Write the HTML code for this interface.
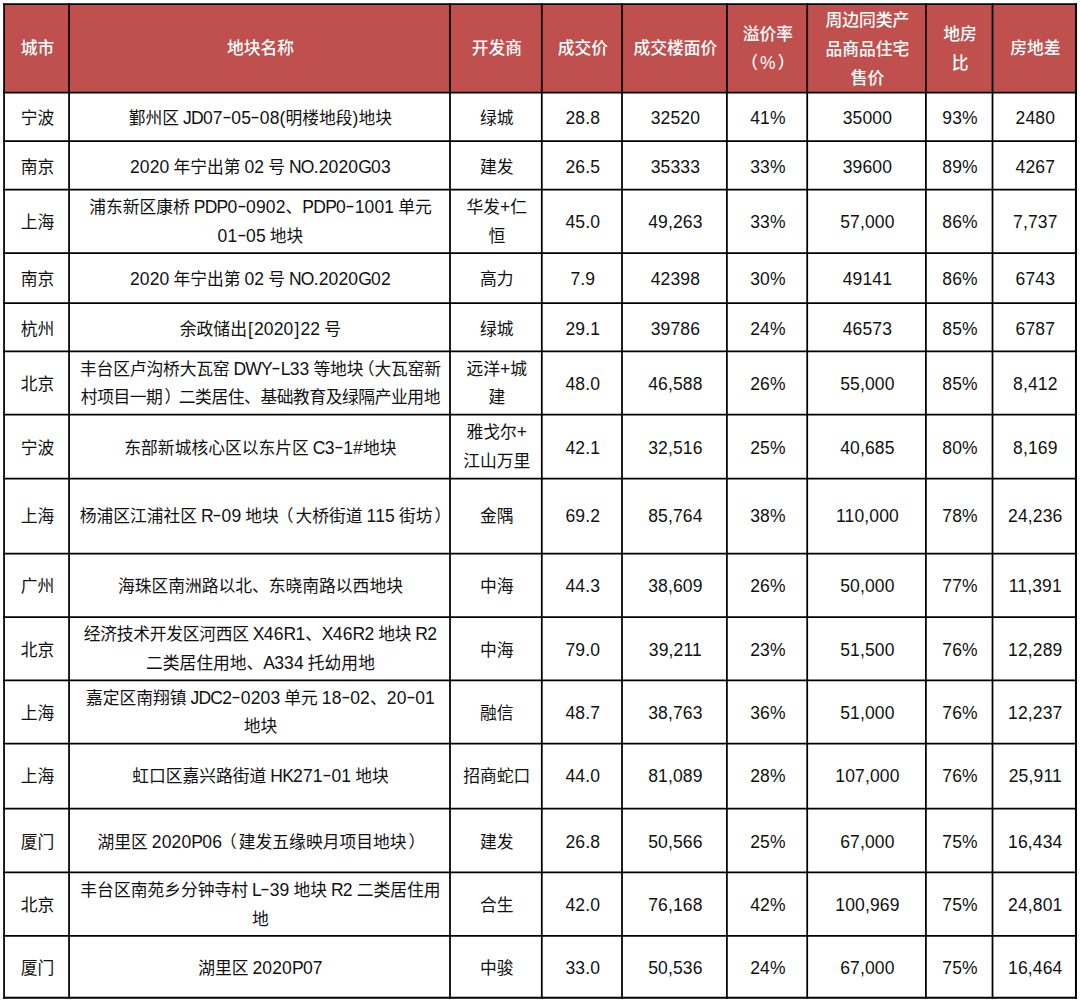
<!DOCTYPE html>
<html lang="zh-CN">
<head>
<meta charset="utf-8">
<title>地块成交表</title>
<style>

html,body{margin:0;padding:0;background:#fff;}
body{width:1080px;height:1002px;position:relative;overflow:hidden;
 font-family:"Liberation Sans","Noto Sans CJK SC",sans-serif;color:#111;}
#grid{position:absolute;left:0;top:0;}
.c{position:absolute;display:flex;align-items:center;justify-content:center;text-align:center;
 font-size:16.77px;line-height:28.8px;white-space:nowrap;box-sizing:border-box;padding-left:1.8px;}
.c>span{position:relative;top:3.0px;}
.c.m2>span{top:1.5px;}
.c.m3>span{top:2.0px;}
.br{margin:0 1px;}
.cp{margin-left:-5.5px;}
.pl{position:relative;left:-2px;}
.pr{position:relative;left:2px;}
.cap{letter-spacing:-0.75px;}
.hy{display:inline-block;transform:translateY(-1.5px) scaleX(1.6);margin:0 1.35px;}
.l{font-size:17.50px;line-height:1;word-spacing:-1.05px;letter-spacing:0.15px;}
.h{color:#fff;font-weight:500;}

</style>
</head>
<body>
<svg id="grid" width="1080" height="1002" viewBox="0 0 1080 1002">
<rect x="4.05" y="4.05" width="1071.90" height="88.45" fill="#c0504d"/>
<line x1="4.05" y1="3.17" x2="4.05" y2="998.70" stroke="#000" stroke-width="1.75"/>
<line x1="69.05" y1="3.17" x2="69.05" y2="998.70" stroke="#000" stroke-width="1.75"/>
<line x1="450.00" y1="3.17" x2="450.00" y2="998.70" stroke="#000" stroke-width="1.75"/>
<line x1="541.80" y1="3.17" x2="541.80" y2="998.70" stroke="#000" stroke-width="1.75"/>
<line x1="622.00" y1="3.17" x2="622.00" y2="998.70" stroke="#000" stroke-width="1.75"/>
<line x1="726.90" y1="3.17" x2="726.90" y2="998.70" stroke="#000" stroke-width="1.75"/>
<line x1="807.20" y1="3.17" x2="807.20" y2="998.70" stroke="#000" stroke-width="1.75"/>
<line x1="925.90" y1="3.17" x2="925.90" y2="998.70" stroke="#000" stroke-width="1.75"/>
<line x1="992.50" y1="3.17" x2="992.50" y2="998.70" stroke="#000" stroke-width="1.75"/>
<line x1="1075.95" y1="3.17" x2="1075.95" y2="998.70" stroke="#000" stroke-width="2.00"/>
<line x1="3.17" y1="4.05" x2="1076.95" y2="4.05" stroke="#000" stroke-width="1.75"/>
<line x1="3.17" y1="92.50" x2="1076.95" y2="92.50" stroke="#000" stroke-width="1.75"/>
<line x1="3.17" y1="141.00" x2="1076.95" y2="141.00" stroke="#000" stroke-width="1.75"/>
<line x1="3.17" y1="189.70" x2="1076.95" y2="189.70" stroke="#000" stroke-width="1.75"/>
<line x1="3.17" y1="253.00" x2="1076.95" y2="253.00" stroke="#000" stroke-width="1.75"/>
<line x1="3.17" y1="303.00" x2="1076.95" y2="303.00" stroke="#000" stroke-width="1.75"/>
<line x1="3.17" y1="351.40" x2="1076.95" y2="351.40" stroke="#000" stroke-width="1.75"/>
<line x1="3.17" y1="414.50" x2="1076.95" y2="414.50" stroke="#000" stroke-width="1.75"/>
<line x1="3.17" y1="478.60" x2="1076.95" y2="478.60" stroke="#000" stroke-width="1.75"/>
<line x1="3.17" y1="553.50" x2="1076.95" y2="553.50" stroke="#000" stroke-width="1.75"/>
<line x1="3.17" y1="617.00" x2="1076.95" y2="617.00" stroke="#000" stroke-width="1.75"/>
<line x1="3.17" y1="680.40" x2="1076.95" y2="680.40" stroke="#000" stroke-width="1.75"/>
<line x1="3.17" y1="743.50" x2="1076.95" y2="743.50" stroke="#000" stroke-width="1.75"/>
<line x1="3.17" y1="808.50" x2="1076.95" y2="808.50" stroke="#000" stroke-width="1.75"/>
<line x1="3.17" y1="872.40" x2="1076.95" y2="872.40" stroke="#000" stroke-width="1.75"/>
<line x1="3.17" y1="935.90" x2="1076.95" y2="935.90" stroke="#000" stroke-width="1.75"/>
<line x1="3.17" y1="997.70" x2="1076.95" y2="997.70" stroke="#000" stroke-width="2.00"/>
</svg>
<div class="c h" style="left:4.05px;top:4.20px;width:65.00px;height:88.30px"><span style="top:1.5px;">城市</span></div>
<div class="c h" style="left:69.05px;top:4.20px;width:380.95px;height:88.30px"><span style="top:1.5px;">地块名称</span></div>
<div class="c h" style="left:450.00px;top:4.20px;width:91.80px;height:88.30px"><span style="top:1.5px;">开发商</span></div>
<div class="c h" style="left:541.80px;top:4.20px;width:80.20px;height:88.30px"><span style="top:1.5px;">成交价</span></div>
<div class="c h" style="left:622.00px;top:4.20px;width:104.90px;height:88.30px"><span style="top:1.5px;">成交楼面价</span></div>
<div class="c h m2" style="left:726.90px;top:4.20px;width:80.30px;height:88.30px"><span>溢价率<br><span class="pl">（</span><span class="l">%</span><span class="pr">）</span></span></div>
<div class="c h m3" style="left:807.20px;top:4.20px;width:118.70px;height:88.30px"><span>周边同类产<br>品商品住宅<br>售价</span></div>
<div class="c h m2" style="left:925.90px;top:4.20px;width:66.60px;height:88.30px"><span>地房<br>比</span></div>
<div class="c h" style="left:992.50px;top:4.20px;width:83.80px;height:88.30px"><span style="top:1.5px;">房地差</span></div>
<div class="c" style="left:4.05px;top:92.50px;width:65.00px;height:48.50px"><span>宁波</span></div>
<div class="c" style="left:69.05px;top:92.50px;width:380.95px;height:48.50px"><span>鄞州区<span class="l"> <span class="cap">JD</span>07<span class="hy">-</span>05<span class="hy">-</span>08(</span>明楼地段<span class="l">)</span>地块</span></div>
<div class="c" style="left:450.00px;top:92.50px;width:91.80px;height:48.50px"><span>绿城</span></div>
<div class="c" style="left:541.80px;top:92.50px;width:80.20px;height:48.50px"><span><span class="l">28.8</span></span></div>
<div class="c" style="left:622.00px;top:92.50px;width:104.90px;height:48.50px"><span><span class="l">32520</span></span></div>
<div class="c" style="left:726.90px;top:92.50px;width:80.30px;height:48.50px"><span><span class="l">41%</span></span></div>
<div class="c" style="left:807.20px;top:92.50px;width:118.70px;height:48.50px"><span><span class="l">35000</span></span></div>
<div class="c" style="left:925.90px;top:92.50px;width:66.60px;height:48.50px"><span><span class="l">93%</span></span></div>
<div class="c" style="left:992.50px;top:92.50px;width:83.80px;height:48.50px"><span><span class="l">2480</span></span></div>
<div class="c" style="left:4.05px;top:141.00px;width:65.00px;height:48.70px"><span>南京</span></div>
<div class="c" style="left:69.05px;top:141.00px;width:380.95px;height:48.70px"><span><span class="l">2020 </span>年宁出第<span class="l"> 02 </span>号<span class="l"> <span class="cap">NO</span>.2020<span class="cap">G</span>03</span></span></div>
<div class="c" style="left:450.00px;top:141.00px;width:91.80px;height:48.70px"><span>建发</span></div>
<div class="c" style="left:541.80px;top:141.00px;width:80.20px;height:48.70px"><span><span class="l">26.5</span></span></div>
<div class="c" style="left:622.00px;top:141.00px;width:104.90px;height:48.70px"><span><span class="l">35333</span></span></div>
<div class="c" style="left:726.90px;top:141.00px;width:80.30px;height:48.70px"><span><span class="l">33%</span></span></div>
<div class="c" style="left:807.20px;top:141.00px;width:118.70px;height:48.70px"><span><span class="l">39600</span></span></div>
<div class="c" style="left:925.90px;top:141.00px;width:66.60px;height:48.70px"><span><span class="l">89%</span></span></div>
<div class="c" style="left:992.50px;top:141.00px;width:83.80px;height:48.70px"><span><span class="l">4267</span></span></div>
<div class="c" style="left:4.05px;top:189.70px;width:65.00px;height:63.30px"><span style="top:2.0px;">上海</span></div>
<div class="c m2" style="left:69.05px;top:189.70px;width:380.95px;height:63.30px"><span>浦东新区康桥<span class="l"> <span class="cap">PDP</span>0<span class="hy">-</span>0902</span>、<span class="l"><span class="cap">PDP</span>0<span class="hy">-</span>1001 </span>单元<br><span class="l">01<span class="hy">-</span>05 </span>地块</span></div>
<div class="c m2" style="left:450.00px;top:189.70px;width:91.80px;height:63.30px"><span>华发<span class="l">+</span>仁<br>恒</span></div>
<div class="c" style="left:541.80px;top:189.70px;width:80.20px;height:63.30px"><span style="top:2.0px;"><span class="l">45.0</span></span></div>
<div class="c" style="left:622.00px;top:189.70px;width:104.90px;height:63.30px"><span style="top:2.0px;"><span class="l">49,263</span></span></div>
<div class="c" style="left:726.90px;top:189.70px;width:80.30px;height:63.30px"><span style="top:2.0px;"><span class="l">33%</span></span></div>
<div class="c" style="left:807.20px;top:189.70px;width:118.70px;height:63.30px"><span style="top:2.0px;"><span class="l">57,000</span></span></div>
<div class="c" style="left:925.90px;top:189.70px;width:66.60px;height:63.30px"><span style="top:2.0px;"><span class="l">86%</span></span></div>
<div class="c" style="left:992.50px;top:189.70px;width:83.80px;height:63.30px"><span style="top:2.0px;"><span class="l">7,737</span></span></div>
<div class="c" style="left:4.05px;top:253.00px;width:65.00px;height:50.00px"><span style="top:2.0px;">南京</span></div>
<div class="c" style="left:69.05px;top:253.00px;width:380.95px;height:50.00px"><span style="top:2.0px;"><span class="l">2020 </span>年宁出第<span class="l"> 02 </span>号<span class="l"> <span class="cap">NO</span>.2020<span class="cap">G</span>02</span></span></div>
<div class="c" style="left:450.00px;top:253.00px;width:91.80px;height:50.00px"><span style="top:2.0px;">高力</span></div>
<div class="c" style="left:541.80px;top:253.00px;width:80.20px;height:50.00px"><span style="top:2.0px;"><span class="l">7.9</span></span></div>
<div class="c" style="left:622.00px;top:253.00px;width:104.90px;height:50.00px"><span style="top:2.0px;"><span class="l">42398</span></span></div>
<div class="c" style="left:726.90px;top:253.00px;width:80.30px;height:50.00px"><span style="top:2.0px;"><span class="l">30%</span></span></div>
<div class="c" style="left:807.20px;top:253.00px;width:118.70px;height:50.00px"><span style="top:2.0px;"><span class="l">49141</span></span></div>
<div class="c" style="left:925.90px;top:253.00px;width:66.60px;height:50.00px"><span style="top:2.0px;"><span class="l">86%</span></span></div>
<div class="c" style="left:992.50px;top:253.00px;width:83.80px;height:50.00px"><span style="top:2.0px;"><span class="l">6743</span></span></div>
<div class="c" style="left:4.05px;top:303.00px;width:65.00px;height:48.40px"><span>杭州</span></div>
<div class="c" style="left:69.05px;top:303.00px;width:380.95px;height:48.40px"><span>余政储出<span class="l"><span class="br">[</span>2020<span class="br">]</span>22 </span>号</span></div>
<div class="c" style="left:450.00px;top:303.00px;width:91.80px;height:48.40px"><span>绿城</span></div>
<div class="c" style="left:541.80px;top:303.00px;width:80.20px;height:48.40px"><span><span class="l">29.1</span></span></div>
<div class="c" style="left:622.00px;top:303.00px;width:104.90px;height:48.40px"><span><span class="l">39786</span></span></div>
<div class="c" style="left:726.90px;top:303.00px;width:80.30px;height:48.40px"><span><span class="l">24%</span></span></div>
<div class="c" style="left:807.20px;top:303.00px;width:118.70px;height:48.40px"><span><span class="l">46573</span></span></div>
<div class="c" style="left:925.90px;top:303.00px;width:66.60px;height:48.40px"><span><span class="l">85%</span></span></div>
<div class="c" style="left:992.50px;top:303.00px;width:83.80px;height:48.40px"><span><span class="l">6787</span></span></div>
<div class="c" style="left:4.05px;top:351.40px;width:65.00px;height:63.10px"><span style="top:2.0px;">北京</span></div>
<div class="c m2" style="left:69.05px;top:351.40px;width:380.95px;height:63.10px"><span><span style="letter-spacing:-0.15px">丰台区卢沟桥大瓦窑<span class="l"> <span class="cap">DWY</span><span class="hy">-</span><span class="cap">L</span>33 </span>等地块<span class="cp">（</span>大瓦窑新</span><br><span style="letter-spacing:-0.44px">村项目一期<span class="pr">）</span>二类居住、基础教育及绿隔产业用地</span></span></div>
<div class="c m2" style="left:450.00px;top:351.40px;width:91.80px;height:63.10px"><span>远洋<span class="l">+</span>城<br>建</span></div>
<div class="c" style="left:541.80px;top:351.40px;width:80.20px;height:63.10px"><span style="top:2.0px;"><span class="l">48.0</span></span></div>
<div class="c" style="left:622.00px;top:351.40px;width:104.90px;height:63.10px"><span style="top:2.0px;"><span class="l">46,588</span></span></div>
<div class="c" style="left:726.90px;top:351.40px;width:80.30px;height:63.10px"><span style="top:2.0px;"><span class="l">26%</span></span></div>
<div class="c" style="left:807.20px;top:351.40px;width:118.70px;height:63.10px"><span style="top:2.0px;"><span class="l">55,000</span></span></div>
<div class="c" style="left:925.90px;top:351.40px;width:66.60px;height:63.10px"><span style="top:2.0px;"><span class="l">85%</span></span></div>
<div class="c" style="left:992.50px;top:351.40px;width:83.80px;height:63.10px"><span style="top:2.0px;"><span class="l">8,412</span></span></div>
<div class="c" style="left:4.05px;top:414.50px;width:65.00px;height:64.10px"><span>宁波</span></div>
<div class="c" style="left:69.05px;top:414.50px;width:380.95px;height:64.10px"><span>东部新城核心区以东片区<span class="l"> <span class="cap">C</span>3<span class="hy">-</span>1#</span>地块</span></div>
<div class="c m2" style="left:450.00px;top:414.50px;width:91.80px;height:64.10px"><span>雅戈尔<span class="l">+</span><br>江山万里</span></div>
<div class="c" style="left:541.80px;top:414.50px;width:80.20px;height:64.10px"><span><span class="l">42.1</span></span></div>
<div class="c" style="left:622.00px;top:414.50px;width:104.90px;height:64.10px"><span><span class="l">32,516</span></span></div>
<div class="c" style="left:726.90px;top:414.50px;width:80.30px;height:64.10px"><span><span class="l">25%</span></span></div>
<div class="c" style="left:807.20px;top:414.50px;width:118.70px;height:64.10px"><span><span class="l">40,685</span></span></div>
<div class="c" style="left:925.90px;top:414.50px;width:66.60px;height:64.10px"><span><span class="l">80%</span></span></div>
<div class="c" style="left:992.50px;top:414.50px;width:83.80px;height:64.10px"><span><span class="l">8,169</span></span></div>
<div class="c" style="left:4.05px;top:478.60px;width:65.00px;height:74.90px"><span style="top:1.0px;">上海</span></div>
<div class="c" style="left:69.05px;top:478.60px;width:380.95px;height:74.90px"><span style="top:1.0px;left:4px;">杨浦区江浦社区<span class="l"> <span class="cap">R</span><span class="hy">-</span>09 </span>地块<span class="pl">（</span>大桥街道<span class="l"> 115 </span>街坊<span class="pr">）</span></span></div>
<div class="c" style="left:450.00px;top:478.60px;width:91.80px;height:74.90px"><span style="top:1.0px;">金隅</span></div>
<div class="c" style="left:541.80px;top:478.60px;width:80.20px;height:74.90px"><span style="top:1.0px;"><span class="l">69.2</span></span></div>
<div class="c" style="left:622.00px;top:478.60px;width:104.90px;height:74.90px"><span style="top:1.0px;"><span class="l">85,764</span></span></div>
<div class="c" style="left:726.90px;top:478.60px;width:80.30px;height:74.90px"><span style="top:1.0px;"><span class="l">38%</span></span></div>
<div class="c" style="left:807.20px;top:478.60px;width:118.70px;height:74.90px"><span style="top:1.0px;"><span class="l">110,000</span></span></div>
<div class="c" style="left:925.90px;top:478.60px;width:66.60px;height:74.90px"><span style="top:1.0px;"><span class="l">78%</span></span></div>
<div class="c" style="left:992.50px;top:478.60px;width:83.80px;height:74.90px"><span style="top:1.0px;"><span class="l">24,236</span></span></div>
<div class="c" style="left:4.05px;top:553.50px;width:65.00px;height:63.50px"><span style="top:2.0px;">广州</span></div>
<div class="c" style="left:69.05px;top:553.50px;width:380.95px;height:63.50px"><span style="top:2.0px;">海珠区南洲路以北、东晓南路以西地块</span></div>
<div class="c" style="left:450.00px;top:553.50px;width:91.80px;height:63.50px"><span style="top:2.0px;">中海</span></div>
<div class="c" style="left:541.80px;top:553.50px;width:80.20px;height:63.50px"><span style="top:2.0px;"><span class="l">44.3</span></span></div>
<div class="c" style="left:622.00px;top:553.50px;width:104.90px;height:63.50px"><span style="top:2.0px;"><span class="l">38,609</span></span></div>
<div class="c" style="left:726.90px;top:553.50px;width:80.30px;height:63.50px"><span style="top:2.0px;"><span class="l">26%</span></span></div>
<div class="c" style="left:807.20px;top:553.50px;width:118.70px;height:63.50px"><span style="top:2.0px;"><span class="l">50,000</span></span></div>
<div class="c" style="left:925.90px;top:553.50px;width:66.60px;height:63.50px"><span style="top:2.0px;"><span class="l">77%</span></span></div>
<div class="c" style="left:992.50px;top:553.50px;width:83.80px;height:63.50px"><span style="top:2.0px;"><span class="l">11,391</span></span></div>
<div class="c" style="left:4.05px;top:617.00px;width:65.00px;height:63.40px"><span>北京</span></div>
<div class="c m2" style="left:69.05px;top:617.00px;width:380.95px;height:63.40px"><span><span style="letter-spacing:-0.25px">经济技术开发区河西区<span class="l"> <span class="cap">X</span>46<span class="cap">R</span>1</span>、<span class="l"><span class="cap">X</span>46<span class="cap">R</span>2 </span>地块<span class="l"> <span class="cap">R</span>2</span></span><br>二类居住用地、<span class="l"><span class="cap">A</span>334 </span>托幼用地</span></div>
<div class="c" style="left:450.00px;top:617.00px;width:91.80px;height:63.40px"><span>中海</span></div>
<div class="c" style="left:541.80px;top:617.00px;width:80.20px;height:63.40px"><span><span class="l">79.0</span></span></div>
<div class="c" style="left:622.00px;top:617.00px;width:104.90px;height:63.40px"><span><span class="l">39,211</span></span></div>
<div class="c" style="left:726.90px;top:617.00px;width:80.30px;height:63.40px"><span><span class="l">23%</span></span></div>
<div class="c" style="left:807.20px;top:617.00px;width:118.70px;height:63.40px"><span><span class="l">51,500</span></span></div>
<div class="c" style="left:925.90px;top:617.00px;width:66.60px;height:63.40px"><span><span class="l">76%</span></span></div>
<div class="c" style="left:992.50px;top:617.00px;width:83.80px;height:63.40px"><span><span class="l">12,289</span></span></div>
<div class="c" style="left:4.05px;top:680.40px;width:65.00px;height:63.10px"><span style="top:2.0px;">上海</span></div>
<div class="c m2" style="left:69.05px;top:680.40px;width:380.95px;height:63.10px"><span>嘉定区南翔镇<span class="l"> <span class="cap">JDC</span>2<span class="hy">-</span>0203 </span>单元<span class="l"> 18<span class="hy">-</span>02</span>、<span class="l">20<span class="hy">-</span>01</span><br>地块</span></div>
<div class="c" style="left:450.00px;top:680.40px;width:91.80px;height:63.10px"><span style="top:2.0px;">融信</span></div>
<div class="c" style="left:541.80px;top:680.40px;width:80.20px;height:63.10px"><span style="top:2.0px;"><span class="l">48.7</span></span></div>
<div class="c" style="left:622.00px;top:680.40px;width:104.90px;height:63.10px"><span style="top:2.0px;"><span class="l">38,763</span></span></div>
<div class="c" style="left:726.90px;top:680.40px;width:80.30px;height:63.10px"><span style="top:2.0px;"><span class="l">36%</span></span></div>
<div class="c" style="left:807.20px;top:680.40px;width:118.70px;height:63.10px"><span style="top:2.0px;"><span class="l">51,000</span></span></div>
<div class="c" style="left:925.90px;top:680.40px;width:66.60px;height:63.10px"><span style="top:2.0px;"><span class="l">76%</span></span></div>
<div class="c" style="left:992.50px;top:680.40px;width:83.80px;height:63.10px"><span style="top:2.0px;"><span class="l">12,237</span></span></div>
<div class="c" style="left:4.05px;top:743.50px;width:65.00px;height:65.00px"><span style="top:1.0px;">上海</span></div>
<div class="c" style="left:69.05px;top:743.50px;width:380.95px;height:65.00px"><span style="top:1.0px;">虹口区嘉兴路街道<span class="l"> <span class="cap">HK</span>271<span class="hy">-</span>01 </span>地块</span></div>
<div class="c" style="left:450.00px;top:743.50px;width:91.80px;height:65.00px"><span style="top:1.0px;">招商蛇口</span></div>
<div class="c" style="left:541.80px;top:743.50px;width:80.20px;height:65.00px"><span style="top:1.0px;"><span class="l">44.0</span></span></div>
<div class="c" style="left:622.00px;top:743.50px;width:104.90px;height:65.00px"><span style="top:1.0px;"><span class="l">81,089</span></span></div>
<div class="c" style="left:726.90px;top:743.50px;width:80.30px;height:65.00px"><span style="top:1.0px;"><span class="l">28%</span></span></div>
<div class="c" style="left:807.20px;top:743.50px;width:118.70px;height:65.00px"><span style="top:1.0px;"><span class="l">107,000</span></span></div>
<div class="c" style="left:925.90px;top:743.50px;width:66.60px;height:65.00px"><span style="top:1.0px;"><span class="l">76%</span></span></div>
<div class="c" style="left:992.50px;top:743.50px;width:83.80px;height:65.00px"><span style="top:1.0px;"><span class="l">25,911</span></span></div>
<div class="c" style="left:4.05px;top:808.50px;width:65.00px;height:63.90px"><span>厦门</span></div>
<div class="c" style="left:69.05px;top:808.50px;width:380.95px;height:63.90px"><span>湖里区<span class="l"> 2020<span class="cap">P</span>06</span><span class="pl">（</span>建发五缘映月项目地块<span class="pr">）</span></span></div>
<div class="c" style="left:450.00px;top:808.50px;width:91.80px;height:63.90px"><span>建发</span></div>
<div class="c" style="left:541.80px;top:808.50px;width:80.20px;height:63.90px"><span><span class="l">26.8</span></span></div>
<div class="c" style="left:622.00px;top:808.50px;width:104.90px;height:63.90px"><span><span class="l">50,566</span></span></div>
<div class="c" style="left:726.90px;top:808.50px;width:80.30px;height:63.90px"><span><span class="l">25%</span></span></div>
<div class="c" style="left:807.20px;top:808.50px;width:118.70px;height:63.90px"><span><span class="l">67,000</span></span></div>
<div class="c" style="left:925.90px;top:808.50px;width:66.60px;height:63.90px"><span><span class="l">75%</span></span></div>
<div class="c" style="left:992.50px;top:808.50px;width:83.80px;height:63.90px"><span><span class="l">16,434</span></span></div>
<div class="c" style="left:4.05px;top:872.40px;width:65.00px;height:63.50px"><span style="top:2.0px;">北京</span></div>
<div class="c m2" style="left:69.05px;top:872.40px;width:380.95px;height:63.50px"><span>丰台区南苑乡分钟寺村<span class="l"> <span class="cap">L</span><span class="hy">-</span>39 </span>地块<span class="l"> <span class="cap">R</span>2 </span>二类居住用<br>地</span></div>
<div class="c" style="left:450.00px;top:872.40px;width:91.80px;height:63.50px"><span style="top:2.0px;">合生</span></div>
<div class="c" style="left:541.80px;top:872.40px;width:80.20px;height:63.50px"><span style="top:2.0px;"><span class="l">42.0</span></span></div>
<div class="c" style="left:622.00px;top:872.40px;width:104.90px;height:63.50px"><span style="top:2.0px;"><span class="l">76,168</span></span></div>
<div class="c" style="left:726.90px;top:872.40px;width:80.30px;height:63.50px"><span style="top:2.0px;"><span class="l">42%</span></span></div>
<div class="c" style="left:807.20px;top:872.40px;width:118.70px;height:63.50px"><span style="top:2.0px;"><span class="l">100,969</span></span></div>
<div class="c" style="left:925.90px;top:872.40px;width:66.60px;height:63.50px"><span style="top:2.0px;"><span class="l">75%</span></span></div>
<div class="c" style="left:992.50px;top:872.40px;width:83.80px;height:63.50px"><span style="top:2.0px;"><span class="l">24,801</span></span></div>
<div class="c" style="left:4.05px;top:935.90px;width:65.00px;height:60.90px"><span>厦门</span></div>
<div class="c" style="left:69.05px;top:935.90px;width:380.95px;height:60.90px"><span>湖里区<span class="l"> 2020<span class="cap">P</span>07</span></span></div>
<div class="c" style="left:450.00px;top:935.90px;width:91.80px;height:60.90px"><span>中骏</span></div>
<div class="c" style="left:541.80px;top:935.90px;width:80.20px;height:60.90px"><span><span class="l">33.0</span></span></div>
<div class="c" style="left:622.00px;top:935.90px;width:104.90px;height:60.90px"><span><span class="l">50,536</span></span></div>
<div class="c" style="left:726.90px;top:935.90px;width:80.30px;height:60.90px"><span><span class="l">24%</span></span></div>
<div class="c" style="left:807.20px;top:935.90px;width:118.70px;height:60.90px"><span><span class="l">67,000</span></span></div>
<div class="c" style="left:925.90px;top:935.90px;width:66.60px;height:60.90px"><span><span class="l">75%</span></span></div>
<div class="c" style="left:992.50px;top:935.90px;width:83.80px;height:60.90px"><span><span class="l">16,464</span></span></div>
</body>
</html>
